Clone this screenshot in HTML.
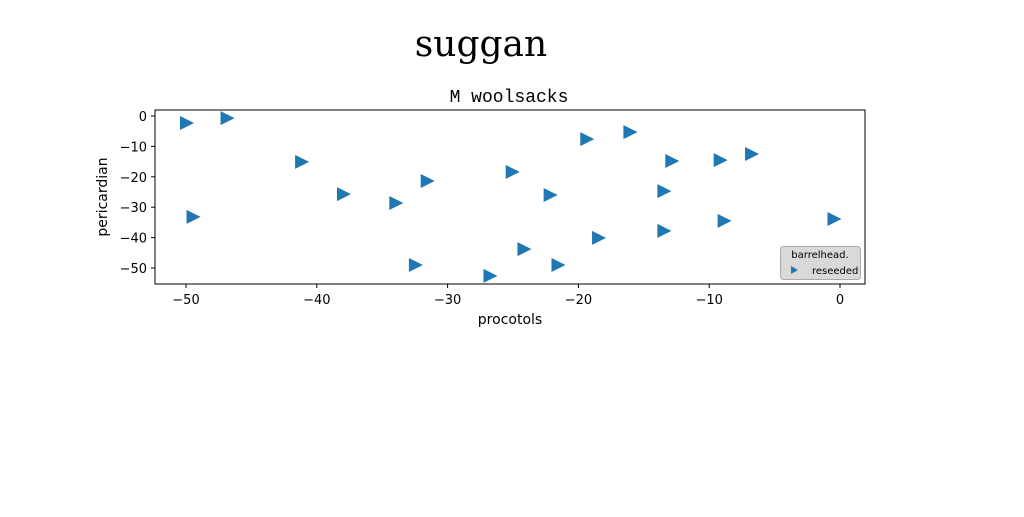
<!DOCTYPE html>
<html><head><meta charset="utf-8"><style>
body{margin:0;background:#fff;width:1024px;height:512px;overflow:hidden}
svg text{font-family:"DejaVu Sans","Liberation Sans",sans-serif}
</style></head><body>
<svg id="c" width="1024" height="512" xmlns="http://www.w3.org/2000/svg">
<text x="481" y="56" font-size="36" text-anchor="middle" style="font-family:'DejaVu Serif','Liberation Serif',serif">suggan</text>
<text x="509" y="102" font-size="18" text-anchor="middle" style="font-family:'Liberation Mono',monospace">M woolsacks</text>
<rect x="155" y="110" width="710" height="174" fill="none" stroke="#000" stroke-width="1"/>
<g id="marks"></g>
<g id="axes"></g>
<text x="510" y="324" font-size="14" text-anchor="middle">procotols</text>
<text x="0" y="0" font-size="14" text-anchor="middle" transform="translate(107,197) rotate(-90)">pericardian</text>
<g>
<rect x="780.5" y="246.5" width="80" height="33" rx="3" fill="#d9d9d9" stroke="#aaa"/>
<text x="820" y="258" font-size="10" text-anchor="middle">barrelhead.</text>
<path d="M791,266 L798,270 L791,274 Z" fill="#1f77b4"/>
<text x="812" y="274" font-size="10">reseeded</text>
</g>
</svg>
<script>
const xVals=[-50.0,-46.9,-41.2,-38.0,-34.0,-31.6,-49.5,-32.5,-26.8,-25.1,-24.2,-22.2,-21.6,-19.4,-18.5,-16.1,-13.5,-13.5,-12.9,-9.2,-8.9,-6.8,-0.5];
const yVals=[-2.3,-0.7,-15.1,-25.7,-28.6,-21.4,-33.2,-49.0,-52.6,-18.4,-43.8,-26.0,-49.0,-7.6,-40.1,-5.3,-24.7,-37.8,-14.8,-14.5,-34.5,-12.5,-33.9];
const xTicks=[-50,-40,-30,-20,-10,0];
const yTicks=[0,-10,-20,-30,-40,-50];
const sx=v=>840+v*13.08;
const sy=v=>116-v*3.04;
const NS="http://www.w3.org/2000/svg";
const m=document.getElementById('marks'),a=document.getElementById('axes');
xVals.forEach((x,i)=>{const px=sx(x),py=sy(yVals[i]);
const p=document.createElementNS(NS,'path');
p.setAttribute('d',`M${px-6},${py-7} L${px+8},${py} L${px-6},${py+7} Z`);
p.setAttribute('fill','#1f77b4');


m.appendChild(p);});
xTicks.forEach(t=>{const x=sx(t);
const l=document.createElementNS(NS,'line');l.setAttribute('x1',x);l.setAttribute('x2',x);l.setAttribute('y1',284);l.setAttribute('y2',288);l.setAttribute('stroke','#000');


a.appendChild(l);
const tx=document.createElementNS(NS,'text');tx.setAttribute('x',x);tx.setAttribute('y',304);tx.setAttribute('font-size','13');tx.setAttribute('text-anchor','middle');tx.textContent=t===0?'0':'\u2212'+Math.abs(t);


a.appendChild(tx);});
yTicks.forEach(t=>{const y=sy(t);
const l=document.createElementNS(NS,'line');l.setAttribute('x1',151);l.setAttribute('x2',155);l.setAttribute('y1',y);l.setAttribute('y2',y);l.setAttribute('stroke','#000');


a.appendChild(l);
const tx=document.createElementNS(NS,'text');tx.setAttribute('x',147);tx.setAttribute('y',y+5);tx.setAttribute('font-size','13');tx.setAttribute('text-anchor','end');tx.textContent=t===0?'0':'\u2212'+Math.abs(t);


a.appendChild(tx);});
</script>
</body></html>
